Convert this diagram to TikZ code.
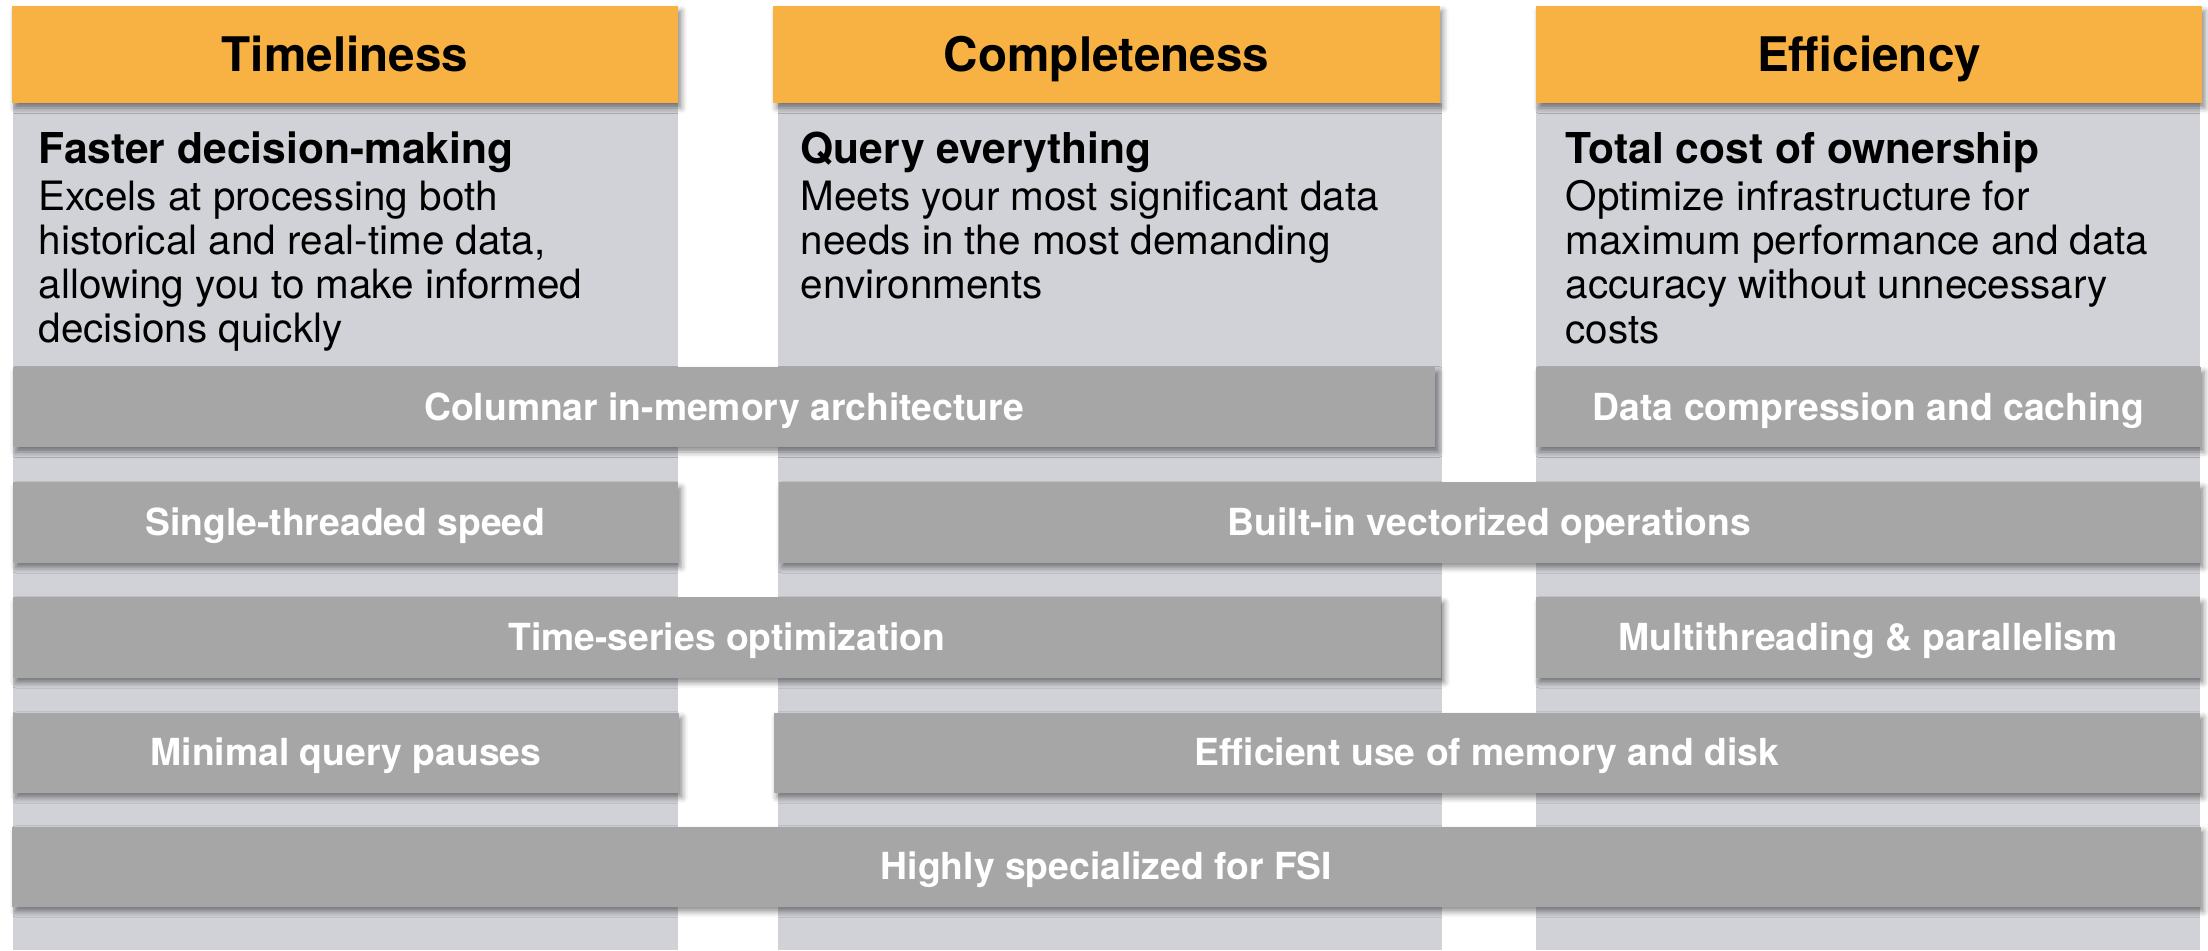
\documentclass[tikz,border=0pt]{standalone}
\usepackage{fontspec}
\setmainfont{TeX Gyre Heros}
\usetikzlibrary{shadows.blur}

\definecolor{hdrorange}{HTML}{F8B243}
\definecolor{colgray}{HTML}{D1D2D7}
\definecolor{bargray}{HTML}{A6A6A6}

\begin{document}
\begin{tikzpicture}[x=0.01cm, y=-0.01cm,
  softshadow/.style={blur shadow={shadow xshift=0.9pt, shadow yshift=-1.4pt, shadow blur radius=1.6pt, shadow opacity=45}},
  header/.style={fill=hdrorange, minimum height=0.97cm, minimum width=6.66cm, inner sep=0pt,
    font=\fontsize{13.55pt}{16pt}\selectfont\bfseries, text height=9.7pt, text depth=0pt, softshadow},
  bar/.style={fill=bargray, minimum height=0.8cm, inner sep=0pt, text=white,
    font=\fontsize{10.6pt}{12pt}\selectfont\bfseries, text height=7.6pt, text depth=0pt, softshadow},
  subtitle/.style={anchor=base west, inner sep=0pt, font=\fontsize{12.1pt}{14pt}\selectfont\bfseries},
  body/.style={anchor=north west, inner sep=0pt, align=left, font=\fontsize{11.5pt}{12.52pt}\selectfont}
]
\useasboundingbox (0,0) rectangle (2208,950);

% Column backgrounds
\fill[colgray] (13,103) rectangle (678,950);
\fill[colgray] (778,103) rectangle (1442,950);
\fill[colgray] (1536,103) rectangle (2200,950);

% Headers
\node[header] (hTime) at (345,54.5) {Timeliness};
\node[header] (hComp) at (1106.5,54.5) {Completeness};
\node[header] (hEffi) at (1869,54.5) {Efficiency};

% Column texts
\node[subtitle] (tTime) at (38,163) {Faster decision-making};
\node[body] (bTime) at (38,180) {Excels at processing both\\historical and real-time data,\\allowing you to make informed\\decisions quickly};

\node[subtitle] (tComp) at (800,163) {Query everything};
\node[body] (bComp) at (800,180) {Meets your most significant data\\needs in the most demanding\\environments};

\node[subtitle] (tEffi) at (1565,163) {Total cost of ownership};
\node[body] (bEffi) at (1565,180) {Optimize infrastructure for\\maximum performance and data\\accuracy without unnecessary\\costs};

% Row 1
\node[bar, minimum width=14.22cm] (columnar) at (724,407) {Columnar in-memory architecture};
\node[bar, minimum width=6.65cm] (compress) at (1868.5,407) {Data compression and caching};

% Row 2
\node[bar, minimum width=6.65cm] (single) at (345.5,522.5) {Single-threaded speed};
\node[bar, minimum width=14.21cm] (vector) at (1489.5,522.5) {Built-in vectorized operations};

% Row 3
\node[bar, minimum width=14.28cm] (tseries) at (727,637.5) {Time-series optimization};
\node[bar, minimum width=6.64cm] (multi) at (1868,637.5) {Multithreading \& parallelism};

% Row 4
\node[bar, minimum width=6.66cm] (pauses) at (346,752.5) {Minimal query pauses};
\node[bar, minimum width=14.26cm] (memdisk) at (1487,752.5) {Efficient use of memory and disk};

% Row 5
\node[bar, minimum width=21.87cm] (fsi) at (1106.5,866.5) {Highly specialized for FSI};

\end{tikzpicture}
\end{document}
